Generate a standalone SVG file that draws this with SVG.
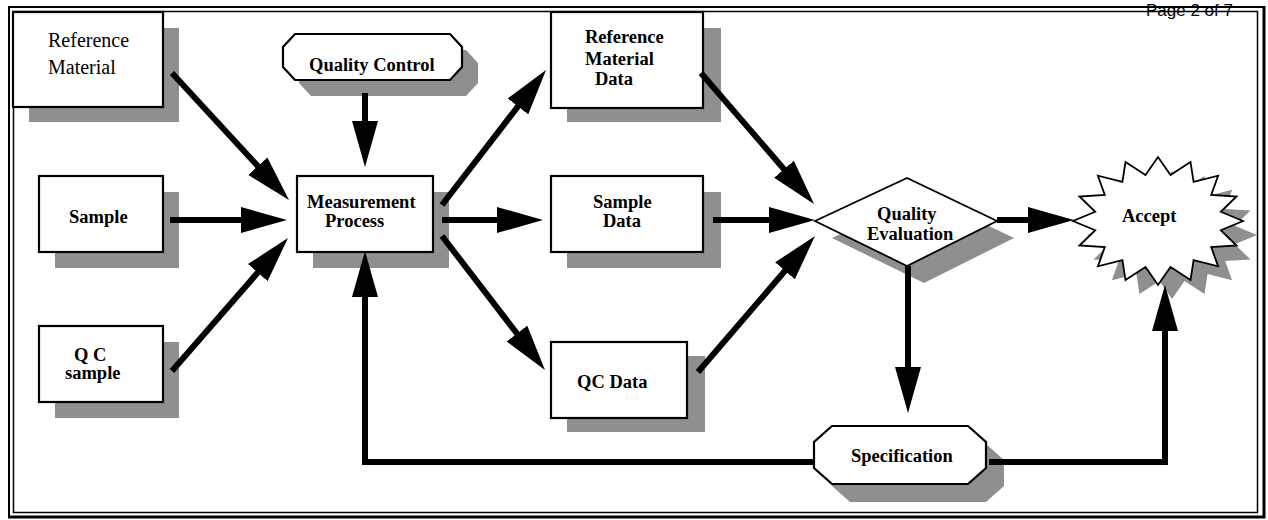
<svg xmlns="http://www.w3.org/2000/svg" width="1268" height="520" viewBox="0 0 1268 520">
  <style>
    .shadow { fill: #8f8f8f; stroke: none; }
    .box { fill: #ffffff; stroke: #000000; stroke-width: 2.2; }
    .thin { fill: #ffffff; stroke: #000000; stroke-width: 1.8; stroke-linejoin: miter; }
    .lbl { font-family: "Liberation Serif", "Times New Roman", serif; font-size: 18.5px; font-weight: bold; fill: #000000; }
    .lblr { font-family: "Liberation Serif", "Times New Roman", serif; font-size: 20px; fill: #000000; }
    .flow { fill: none; stroke: #000000; stroke-width: 6; stroke-linejoin: miter; marker-end: url(#head); }
  </style>
  <defs>
    <marker id="head" markerUnits="userSpaceOnUse" viewBox="0 0 46 26" markerWidth="46" markerHeight="26" refX="6" refY="13" orient="auto">
      <path d="M0,0 L46,13 L0,26 Z" fill="#000000"/>
    </marker>
    <polygon id="burst" points="1243,221 1220.8,211.8 1236.5,196.5 1211.2,194.9 1218.1,175.7 1193.6,181.9 1190.5,161.9 1170.5,174.9 1158,157 1145.5,174.9 1125.5,161.9 1122.4,181.9 1097.9,175.7 1104.8,194.9 1079.5,196.5 1095.2,211.8 1073,221 1095.2,230.2 1079.5,245.5 1104.8,247.1 1097.9,266.3 1122.4,260.1 1125.5,280.1 1145.5,267.1 1158,285 1170.5,267.1 1190.5,280.1 1193.6,260.1 1218.1,266.3 1211.2,247.1 1236.5,245.5 1220.8,230.2"/>
  </defs>

  <rect width="1268" height="520" fill="#ffffff"/>

  <!-- page header -->
  <text x="1146" y="16" font-family="Liberation Sans, Arial, sans-serif" font-size="17" fill="#000000">Page 2 of 7</text>

  <!-- double page frame -->
  <g id="frame" fill="none" stroke="#000000">
    <rect x="9" y="7" width="1255" height="510" stroke-width="2"/>
    <path d="M1264,6 V518.5 M8,517 H1265.5" stroke-width="3"/>
    <rect x="13.5" y="11.5" width="1244" height="501" stroke-width="1.5"/>
  </g>

  <g id="reference-material">
    <rect class="shadow" x="29" y="28" width="150" height="94"/>
    <rect class="box" x="13" y="12" width="150" height="95"/>
    <text class="lblr" x="48" y="47">Reference</text>
    <text class="lblr" x="48" y="74">Material</text>
  </g>

  <g id="sample">
    <rect class="shadow" x="55" y="192" width="124" height="76"/>
    <rect class="box" x="39" y="176" width="124" height="76"/>
    <text class="lbl" x="69" y="223">Sample</text>
  </g>

  <g id="qc-sample">
    <rect class="shadow" x="55" y="342" width="124" height="76"/>
    <rect class="box" x="39" y="326" width="124" height="76"/>
    <text class="lbl" x="74" y="361">Q C</text>
    <text class="lbl" x="65" y="379">sample</text>
  </g>

  <g id="quality-control">
    <polygon class="shadow" transform="translate(16,16)" points="295,34 450,34 462,47 462,67 450,80 295,80 283,67 283,47"/>
    <polygon class="box" points="295,34 450,34 462,47 462,67 450,80 295,80 283,67 283,47"/>
    <text class="lbl" x="309" y="71">Quality Control</text>
  </g>

  <g id="measurement-process">
    <rect class="shadow" x="313" y="192" width="136" height="76"/>
    <rect class="box" x="297" y="176" width="136" height="76"/>
    <text class="lbl" x="307" y="208">Measurement</text>
    <text class="lbl" x="325" y="227">Process</text>
  </g>

  <g id="reference-material-data">
    <rect class="shadow" x="567" y="28" width="154" height="94"/>
    <rect class="box" x="551" y="12" width="152" height="96"/>
    <text class="lbl" x="585" y="43">Reference</text>
    <text class="lbl" x="585" y="65">Material</text>
    <text class="lbl" x="595" y="85">Data</text>
  </g>

  <g id="sample-data">
    <rect class="shadow" x="567" y="192" width="154" height="76"/>
    <rect class="box" x="551" y="176" width="152" height="76"/>
    <text class="lbl" x="593" y="208">Sample</text>
    <text class="lbl" x="603" y="227">Data</text>
  </g>

  <g id="qc-data">
    <rect class="shadow" x="567" y="356" width="138" height="76"/>
    <rect class="box" x="551" y="342" width="136" height="76"/>
    <text class="lbl" x="577" y="388">QC Data</text>
  </g>

  <g id="quality-evaluation">
    <polygon class="shadow" transform="translate(17,17)" points="815,221 907,178 997,221 907,266"/>
    <polygon class="thin" points="815,221 907,178 997,221 907,266"/>
    <text class="lbl" x="877" y="220">Quality</text>
    <text class="lbl" x="867" y="240">Evaluation</text>
  </g>

  <g id="accept">
    <use href="#burst" class="shadow" transform="translate(14,14)"/>
    <use href="#burst" class="thin"/>
    <text class="lbl" x="1122" y="222">Accept</text>
  </g>

  <g id="specification">
    <polygon class="shadow" transform="translate(18,18)" points="832,426 968,426 986,442 986,468 968,484 832,484 814,468 814,442"/>
    <polygon class="box" points="832,426 968,426 986,442 986,468 968,484 832,484 814,468 814,442"/>
    <text class="lbl" x="851" y="462">Specification</text>
  </g>

  <!-- flow arrows: each path stops 40px short of its tip; the marker supplies the head -->
  <g id="connectors">
    <path class="flow" d="M172,73 L261.9,170.6"/>
    <path class="flow" d="M170,220 L247,220"/>
    <path class="flow" d="M172,371 L261.7,268.1"/>
    <path class="flow" d="M365,93 L365,127"/>
    <path class="flow" d="M442,205 L521.6,101.7"/>
    <path class="flow" d="M442,220 L503,220"/>
    <path class="flow" d="M442,236 L520.6,338.3"/>
    <path class="flow" d="M701,73 L787.9,173.7"/>
    <path class="flow" d="M713,220 L775,220"/>
    <path class="flow" d="M698,372 L788.9,266.3"/>
    <path class="flow" d="M997,220 L1034,220"/>
    <path class="flow" d="M908,266 L908,373"/>
    <path class="flow" d="M989,462 L1165,462 L1165,325"/>
    <path class="flow" d="M814,462 L365,462 L365,291"/>
  </g>
</svg>
